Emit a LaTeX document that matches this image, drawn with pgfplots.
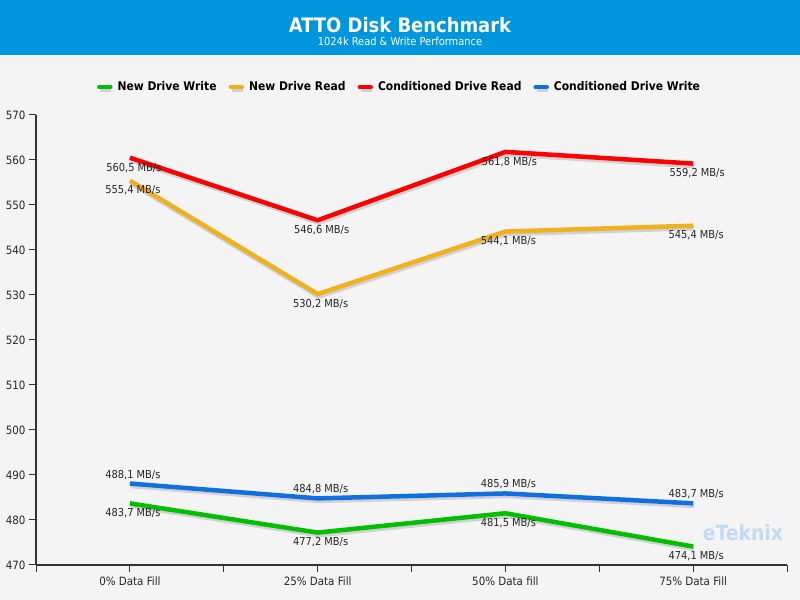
\documentclass[border=0pt]{standalone}
\usepackage{fontspec}
\setmainfont{DejaVu Sans Condensed}
\usepackage{pgfplots}
\pgfplotsset{compat=1.18}
\definecolor{bgc}{RGB}{244,244,244}
\definecolor{barc}{RGB}{0,150,222}
\definecolor{cgreen}{RGB}{0,190,0}
\definecolor{corange}{RGB}{240,176,32}
\definecolor{cred}{RGB}{255,0,0}
\definecolor{cblue}{RGB}{16,112,224}
\definecolor{axc}{RGB}{50,50,50}
\definecolor{wm}{RGB}{196,218,240}
\begin{document}
\begin{tikzpicture}[x=1bp,y=1bp]
\useasboundingbox (0,0) rectangle (800,600);
\fill[bgc] (0,0) rectangle (800,600);
\fill[barc] (0,545) rectangle (800,600);
\node[white,font=\fontsize{20}{24}\selectfont\bfseries] at (400,575) {ATTO Disk Benchmark};
\node[white,font=\fontsize{11}{13}\selectfont] at (400,559) {1024k Read \& Write Performance};
\node[wm,font=\fontsize{21}{24}\selectfont\bfseries] at (743,67) {eTeknix};
\begin{axis}[
  at={(36bp,35bp)}, anchor=south west, scale only axis,
  width=751bp, height=450bp,
  xmin=-0.5, xmax=3.5, ymin=470, ymax=570,
  ytick={470,480,...,570},
  xtick={0,1,2,3},
  xticklabels={0\% Data Fill,25\% Data Fill,50\% Data fill,75\% Data Fill},
  extra x ticks={-0.5,0.5,1.5,2.5,3.5}, extra x tick labels={},
  axis x line*=bottom, axis y line*=left,
  axis line style={axc, line width=1.2bp, -},
  tick style={axc, line width=1bp},
  tick align=outside, major tick length=7bp,
  x tick label style={font=\fontsize{11.5}{13}\selectfont, text=black!85, yshift=-1bp},
  y tick label style={font=\fontsize{11.5}{13}\selectfont, text=black!85},
  /pgf/number format/assume math mode=true,
  clip=false,
  legend columns=4,
  legend style={draw=none, fill=none, at={(0.5,1.062)}, anchor=center, xshift=-12bp,
    font=\fontsize{12}{14}\selectfont\bfseries,
    /tikz/every even column/.append style={column sep=10bp},
    /tikz/every odd column/.append style={column sep=3bp}},
  legend image code/.code={\draw[line width=4.5bp, line cap=round, #1] (0bp,0bp) -- (11bp,0bp);},
  every axis plot/.append style={line width=4.5bp, line join=round, mark=none,
    preaction={draw=black, draw opacity=0.14, line width=5.5bp, transform canvas={yshift=-2bp, xshift=1bp}}},
  point meta=y,
  nodes near coords={\pgfmathprintnumber[fixed,fixed zerofill,precision=1,use comma]{\pgfplotspointmeta}~MB/s},
]
\addplot[cgreen, nodes near coords style={anchor=north, yshift=-3bp, xshift=3bp, inner sep=0pt, font=\fontsize{11}{13}\selectfont, text=black!85}]
  coordinates {(0,483.7) (1,477.2) (2,481.5) (3,474.1)};
\addlegendentry{New Drive Write}
\addplot[corange, nodes near coords style={anchor=north, yshift=-3bp, xshift=3bp, inner sep=0pt, font=\fontsize{11}{13}\selectfont, text=black!85}]
  coordinates {(0,555.4) (1,530.2) (2,544.1) (3,545.4)};
\addlegendentry{New Drive Read}
\addplot[cred, nodes near coords style={anchor=north, yshift=-3bp, xshift=4bp, inner sep=0pt, font=\fontsize{11}{13}\selectfont, text=black!85}]
  coordinates {(0,560.5) (1,546.6) (2,561.8) (3,559.2)};
\addlegendentry{Conditioned Drive Read}
\addplot[cblue, nodes near coords style={anchor=south, yshift=2bp, xshift=3bp, inner sep=0pt, font=\fontsize{11}{13}\selectfont, text=black!85}]
  coordinates {(0,488.1) (1,484.8) (2,485.9) (3,483.7)};
\addlegendentry{Conditioned Drive Write}
\end{axis}
\end{tikzpicture}
\end{document}
